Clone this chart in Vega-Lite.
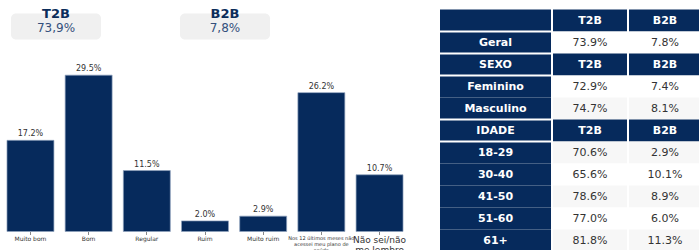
{
  "$schema": "https://vega.github.io/schema/vega-lite/v6.json",
  "padding": {"left": 0, "top": 7.5, "right": 0, "bottom": 0},
  "autosize": {"type": "pad"},
  "background": "white",
  "config": {"view": {"stroke": null}},
  "datasets": {
    "tbl": [
      {"r": "h0", "label": "", "t2b": "T2B", "b2b": "B2B", "kind": "head"},
      {"r": "Geral", "label": "Geral", "t2b": "73.9%", "b2b": "7.8%", "kind": "w"},
      {"r": "SEXO", "label": "SEXO", "t2b": "T2B", "b2b": "B2B", "kind": "head"},
      {"r": "Feminino", "label": "Feminino", "t2b": "72.9%", "b2b": "7.4%", "kind": "w"},
      {"r": "Masculino", "label": "Masculino", "t2b": "74.7%", "b2b": "8.1%", "kind": "g"},
      {"r": "IDADE", "label": "IDADE", "t2b": "T2B", "b2b": "B2B", "kind": "head"},
      {"r": "18-29", "label": "18-29", "t2b": "70.6%", "b2b": "2.9%", "kind": "g"},
      {"r": "30-40", "label": "30-40", "t2b": "65.6%", "b2b": "10.1%", "kind": "w"},
      {"r": "41-50", "label": "41-50", "t2b": "78.6%", "b2b": "8.9%", "kind": "g"},
      {"r": "51-60", "label": "51-60", "t2b": "77.0%", "b2b": "6.0%", "kind": "w"},
      {"r": "61+", "label": "61+", "t2b": "81.8%", "b2b": "11.3%", "kind": "g"}
    ]
  },
  "spacing": 29,
  "hconcat": [
    {
      "bounds": "flush",
      "spacing": 33,
      "vconcat": [
        {
          "width": 281,
          "height": 30,
          "data": {"values": [{"k": "T2B", "v": "73,9%"}, {"k": "B2B", "v": "7,8%"}]},
          "encoding": {
            "x": {"field": "k", "type": "nominal", "sort": null, "axis": null,
                  "scale": {"paddingInner": 0.467, "paddingOuter": 0.065}}
          },
          "layer": [
            {"mark": {"type": "bar", "color": "#f0f0f0", "cornerRadius": 5, "yOffset": 4}},
            {"mark": {"type": "text", "font": "DejaVu Sans", "fontWeight": "bold", "fontSize": 13, "color": "#0b2d5b", "dy": -11},
             "encoding": {"text": {"field": "k"}}},
            {"mark": {"type": "text", "font": "DejaVu Sans", "fontSize": 12, "color": "#34507c", "dy": 3},
             "encoding": {"text": {"field": "v"}}}
          ]
        },
        {
          "width": 410,
          "height": 159,
          "data": {"values": [
            {"cat": "Muito bom", "pct": 0.172},
            {"cat": "Bom", "pct": 0.295},
            {"cat": "Regular", "pct": 0.115},
            {"cat": "Ruim", "pct": 0.020},
            {"cat": "Muito ruim", "pct": 0.029},
            {"cat": "Nos 12 últimos meses não acessei meu plano de saúde", "pct": 0.262},
            {"cat": "Não sei/não me lembro", "pct": 0.107}
          ]},
          "encoding": {
            "x": {"field": "cat", "type": "nominal", "sort": null,
                  "scale": {"paddingInner": 0.193, "paddingOuter": 0.12},
                  "axis": {
                    "title": null, "domain": false, "ticks": true, "tickSize": 3, "tickColor": "#888888",
                    "labelAngle": 0, "labelFont": "DejaVu Sans", "labelColor": "#333333", "labelPadding": 1,
                    "labelOverlap": false, "labelLimit": 0,
                    "labelFontSize": {"expr": "datum.value == 'Não sei/não me lembro' ? 9 : (datum.value == 'Nos 12 últimos meses não acessei meu plano de saúde' ? 5 : 6)"},
                    "labelLineHeight": {"expr": "datum.value == 'Não sei/não me lembro' ? 10 : 6"},
                    "labelExpr": "datum.value == 'Nos 12 últimos meses não acessei meu plano de saúde' ? ['Nos 12 últimos meses não', 'acessei meu plano de', 'saúde'] : (datum.value == 'Não sei/não me lembro' ? ['Não sei/não', 'me lembro'] : datum.label)"
                  }},
            "y": {"field": "pct", "type": "quantitative", "scale": {"domain": [0, 0.3], "nice": false}, "axis": null}
          },
          "layer": [
            {"mark": {"type": "bar", "color": "#062a5c", "stroke": "#8fa2bd", "strokeWidth": 0.7}},
            {"mark": {"type": "text", "baseline": "bottom", "dy": -2, "fontSize": 8, "font": "DejaVu Sans", "color": "#333333"},
             "encoding": {"text": {"field": "pct", "type": "quantitative", "format": ".1%"}}}
          ]
        }
      ]
    },
    {
      "bounds": "flush",
      "spacing": 2,
      "hconcat": [
        {
          "width": 111,
          "height": 242,
          "data": {"name": "tbl"},
          "encoding": {"y": {"field": "r", "type": "nominal", "sort": null, "axis": null, "scale": {"paddingInner": 0, "paddingOuter": 0}}},
          "layer": [
            {"mark": {"type": "rect", "color": "#062a5c"}},
            {"transform": [{"filter": "indexof(['Geral','SEXO','Feminino','IDADE','18-29'], datum.r) >= 0"}],
             "mark": {"type": "rule", "color": "#ffffff", "strokeWidth": 2},
             "encoding": {"y": {"field": "r", "type": "nominal", "sort": null, "bandPosition": 0}}},
            {"mark": {"type": "text", "font": "DejaVu Sans", "fontWeight": "bold", "fontSize": 11, "color": "#ffffff"},
             "encoding": {"text": {"field": "label"}}}
          ]
        },
        {
          "width": 74,
          "height": 242,
          "data": {"name": "tbl"},
          "encoding": {"y": {"field": "r", "type": "nominal", "sort": null, "axis": null, "scale": {"paddingInner": 0, "paddingOuter": 0}}},
          "layer": [
            {"mark": {"type": "rect"},
             "encoding": {"fill": {"field": "kind", "type": "nominal", "legend": null,
                                   "scale": {"domain": ["head", "w", "g"], "range": ["#062a5c", "#ffffff", "#f7f7f7"]}}}},
            {"transform": [{"filter": "datum.kind == 'head'"}],
             "mark": {"type": "text", "font": "DejaVu Sans", "fontWeight": "bold", "fontSize": 11, "color": "#ffffff"},
             "encoding": {"text": {"field": "t2b"}}},
            {"transform": [{"filter": "datum.kind != 'head'"}],
             "mark": {"type": "text", "font": "DejaVu Sans", "fontSize": 11, "color": "#333333"},
             "encoding": {"text": {"field": "t2b"}}}
          ]
        },
        {
          "width": 72,
          "height": 242,
          "data": {"name": "tbl"},
          "encoding": {"y": {"field": "r", "type": "nominal", "sort": null, "axis": null, "scale": {"paddingInner": 0, "paddingOuter": 0}}},
          "layer": [
            {"mark": {"type": "rect"},
             "encoding": {"fill": {"field": "kind", "type": "nominal", "legend": null,
                                   "scale": {"domain": ["head", "w", "g"], "range": ["#062a5c", "#ffffff", "#f7f7f7"]}}}},
            {"transform": [{"filter": "datum.kind == 'head'"}],
             "mark": {"type": "text", "font": "DejaVu Sans", "fontWeight": "bold", "fontSize": 11, "color": "#ffffff"},
             "encoding": {"text": {"field": "b2b"}}},
            {"transform": [{"filter": "datum.kind != 'head'"}],
             "mark": {"type": "text", "font": "DejaVu Sans", "fontSize": 11, "color": "#333333"},
             "encoding": {"text": {"field": "b2b"}}}
          ]
        }
      ]
    }
  ]
}
